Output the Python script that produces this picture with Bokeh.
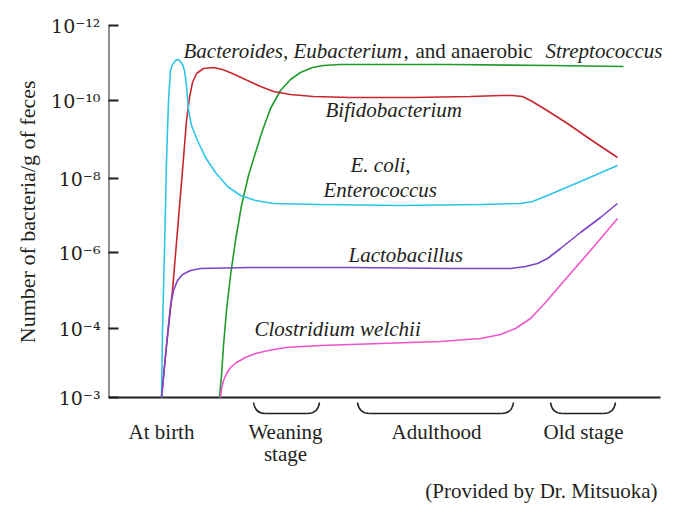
from bokeh.plotting import figure
from bokeh.models import Range1d, FixedTicker, ColumnDataSource, Title
from bokeh.core.properties import value
from bokeh.embed import file_html
from bokeh.resources import INLINE

# ---- data (x = age position, y = level on the chart's count scale) ----
tick_pos = [0, 69, 145, 219, 297, 372]
tick_labels = ["10\u207b\u00b3", "10\u207b\u2074", "10\u207b\u2076", "10\u207b\u2078",
               "10\u207b\u00b9\u2070", "10\u207b\u00b9\u00b2"]

ecoli_x = [53, 54, 56, 58, 60, 62, 64, 67, 69, 71, 74, 76, 78, 80, 83, 89, 97, 107, 119, 132, 147, 165, 212, 292, 372, 412, 424, 439, 472, 509]
ecoli_y = [0, 67, 147, 237, 297, 327, 333, 337, 338, 337, 333, 327, 312, 287, 272, 257, 240, 225, 211, 202, 197, 194, 193, 192, 193, 194, 196, 202, 216, 232]

bifido_x = [53, 58, 64, 69, 74, 78, 81, 84, 88, 95, 105, 114, 124, 139, 152, 165, 182, 205, 242, 305, 362, 392, 404, 414, 422, 437, 459, 482, 509]
bifido_y = [0, 52, 107, 167, 227, 277, 300, 315, 324, 329, 330, 328, 324, 317, 311, 306, 303, 301, 300, 300, 301, 302, 302, 301, 297, 288, 274, 258, 240]

bacter_x = [111, 113, 115, 118, 122, 127, 133, 140, 147, 154, 162, 172, 182, 192, 204, 215, 232, 342, 442, 515]
bacter_y = [0, 22, 52, 87, 122, 157, 192, 222, 245, 267, 289, 307, 318, 325, 330, 332, 333, 333, 332, 331]

lacto_x = [53, 58, 62, 65, 69, 74, 82, 92, 142, 242, 342, 402, 417, 429, 439, 452, 472, 492, 509]
lacto_y = [0, 52, 92, 107, 117, 123, 127, 129, 130, 130, 129, 129, 131, 134, 139, 149, 165, 180, 194]

clos_x = [112, 113, 115, 118, 122, 128, 137, 147, 160, 177, 212, 272, 332, 372, 392, 407, 422, 437, 455, 482, 509]
clos_y = [0, 9, 17, 24, 30, 35, 40, 44, 47, 50, 52, 54, 56, 59, 63, 69, 79, 95, 116, 147, 179]

stage_names = ["At birth", "Weaning", "stage", "Adulthood", "Old stage"]
stage_x = [53, 177, 177, 328, 475]
stage_y = [-34, -34, -56, -34, -34]

brace_start = [145, 249, 442]
brace_end = [211, 405, 507]

# ---- figure ----
p = figure(width=674, height=515, output_backend="svg", toolbar_location=None,
           x_range=Range1d(0, 566), y_range=Range1d(-118, 372),
           min_border_left=108, min_border_right=0, min_border_top=25, min_border_bottom=0)
p.grid.visible = False
p.outline_line_color = None
p.xaxis.visible = False
p.background_fill_color = "white"
p.border_fill_color = "white"

ink = "#231f20"
serif = "Liberation Serif"

ax = p.yaxis[0]
ax.ticker = FixedTicker(ticks=tick_pos)
ax.major_label_overrides = {t: l for t, l in zip(tick_pos, tick_labels)}
ax.axis_line_color = None
ax.major_tick_in = 10
ax.major_tick_out = 0
ax.major_tick_line_width = 2
ax.major_tick_line_color = ink
ax.minor_tick_line_color = None
ax.major_label_standoff = 8
ax.major_label_text_font = "DejaVu Serif"
ax.major_label_text_font_size = "19px"
ax.major_label_text_color = ink

# y axis title (side panel, anchored near the top of the data region)
p.add_layout(Title(text="Number of bacteria/g of feces", align="right", offset=55,
                   standoff=18, text_font=serif, text_font_size="22px",
                   text_font_style="normal", text_color=ink), "left")

# axis lines (y axis and x axis only over the data region)
p.segment(x0=[0, 0], y0=[0, 0], x1=[0, 552], y1=[tick_pos[-1], 0], line_color=ink, line_width=2)

lw = 1.6
p.line(bacter_x, bacter_y, line_color="#1f9b2b", line_width=lw)
p.line(bifido_x, bifido_y, line_color="#c8262d", line_width=lw)
p.line(ecoli_x, ecoli_y, line_color="#2ec4e8", line_width=lw)
p.line(clos_x, clos_y, line_color="#ee55cc", line_width=lw)
p.line(lacto_x, lacto_y, line_color="#7c44c9", line_width=lw)

# braces under the x axis
top, bot, r = -5, -16, 12
bx0, by0, bx1, by1, bcx0, bcy0, bcx1, bcy1 = [], [], [], [], [], [], [], []
sx0, sx1 = [], []
for s, e in zip(brace_start, brace_end):
    bx0 += [s, e]; by0 += [top, top]
    bx1 += [s + r, e - r]; by1 += [bot, bot]
    bcx0 += [s + 1, e - 1]; bcy0 += [bot + 4, bot + 4]
    bcx1 += [s + 4, e - 4]; bcy1 += [bot, bot]
    sx0.append(s + r); sx1.append(e - r)
p.bezier(x0=bx0, y0=by0, x1=bx1, y1=by1, cx0=bcx0, cy0=bcy0, cx1=bcx1, cy1=bcy1,
         line_color=ink, line_width=1.6)
p.segment(x0=sx0, y0=[bot] * len(sx0), x1=sx1, y1=[bot] * len(sx1), line_color=ink, line_width=1.6)

# series labels
it = ColumnDataSource(dict(
    x=[75, 437, 217, 242, 215, 240, 146],
    y=[347, 347, 288, 233, 208, 143, 69],
    t=["Bacteroides, Eubacterium", "Streptococcus", "Bifidobacterium", "E. coli,",
       "Enterococcus", "Lactobacillus", "Clostridium welchii"]))
p.text(x="x", y="y", text="t", source=it, text_font=value(serif), text_font_style="italic",
       text_font_size="21px", text_color=ink, text_baseline="alphabetic", text_align="left")
p.text(x=[295, 307], y=[347, 347], text=[",", "and anaerobic"], text_font=value(serif),
       text_font_size="21px", text_color=ink, text_baseline="alphabetic", text_align="left")

# stage labels
p.text(x=stage_x, y=stage_y, text=stage_names, text_font=value(serif), text_font_size="21px",
       text_color=ink, text_baseline="alphabetic", text_align="center")
p.text(x=[549], y=[-93], text=["(Provided by Dr. Mitsuoka)"], text_font=value(serif),
       text_font_size="21px", text_color=ink, text_baseline="alphabetic", text_align="right")

open("out.html", "w").write(file_html(p, INLINE))
